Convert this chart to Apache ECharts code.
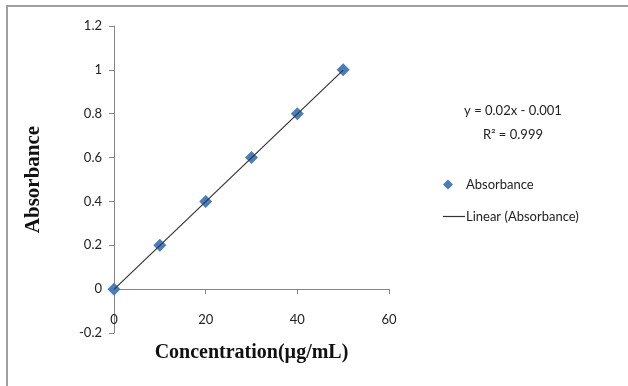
<!DOCTYPE html>
<html>
<head>
<meta charset="utf-8">
<script src="https://cdn.jsdelivr.net/npm/echarts@6/dist/echarts.min.js"></script>
<style>
  html, body { margin: 0; padding: 0; background: #fff; }
  #chart { width: 628px; height: 386px; }
</style>
</head>
<body>
<div id="chart"></div>
<script>
// data
var concentration = [0, 10, 20, 30, 40, 50];
var absorbance = [0, 0.2, 0.4, 0.6, 0.8, 1.0];
// trendline end points (y = 0.02x - 0.001)
var trendX = [0, 50];
var trendY = [-0.001, 0.999];
var xTicks = [0, 20, 40, 60];
var yTicks = [-0.2, 0, 0.2, 0.4, 0.6, 0.8, 1, 1.2];
var equationText = 'y = 0.02x - 0.001';
var r2Text = 'R² = 0.999';

var dom = document.getElementById('chart');
var myChart = echarts.init(dom);

var labelFont = 'Lato, "Open Sans", sans-serif';
var nameFont = '"Liberation Serif", "DejaVu Serif", serif';

var option = {
    backgroundColor: '#fff',
    animation: false,
    grid: { left: 114, top: 26, right: 239, bottom: 53, outerBoundsMode: 'none', containLabel: false },
    legend: [{
        data: ['Absorbance'],
        orient: 'vertical',
        left: 438, top: 173,
        icon: 'diamond',
        itemWidth: 10, itemHeight: 10,
        textStyle: { fontFamily: labelFont, fontSize: 13, color: '#222', padding: [0, 0, 0, 8] }
    }, {
        data: ['Linear (Absorbance)'],
        orient: 'vertical',
        left: 438, top: 205,
        icon: 'rect',
        itemWidth: 22, itemHeight: 1.2,
        textStyle: { fontFamily: labelFont, fontSize: 13, color: '#222', padding: [0, 0, 0, -4] }
    }],
    xAxis: {
        type: 'value',
        min: xTicks[0], max: xTicks[xTicks.length - 1], interval: 20,
        name: 'Concentration(µg/mL)',
        nameLocation: 'middle',
        nameGap: 10,
        nameTextStyle: { fontFamily: nameFont, fontWeight: 'bold', fontSize: 20, color: '#111' },
        axisLine: { onZero: true, lineStyle: { color: '#868686', width: 1 } },
        axisTick: { show: true, inside: false, length: 5, lineStyle: { color: '#868686' } },
        axisLabel: { margin: -20, fontFamily: labelFont, fontSize: 13, color: '#222' },
        splitLine: { show: false }
    },
    yAxis: {
        type: 'value',
        min: yTicks[0], max: yTicks[yTicks.length - 1], interval: 0.2,
        name: 'Absorbance',
        nameLocation: 'middle',
        nameRotate: 90,
        nameGap: 70,
        nameTextStyle: { fontFamily: nameFont, fontWeight: 'bold', fontSize: 21, color: '#111' },
        axisLine: { show: true, onZero: false, lineStyle: { color: '#868686', width: 1 } },
        axisTick: { show: true, length: 5, lineStyle: { color: '#868686' } },
        axisLabel: {
            margin: 12, fontFamily: labelFont, fontSize: 13, color: '#222',
            formatter: function (v) { return String(Math.round(v * 10) / 10); }
        },
        splitLine: { show: false }
    },
    graphic: [{
        type: 'rect',
        shape: { x: 7, y: 6, width: 640, height: 400 },
        style: { fill: null, stroke: '#a0a0a0', lineWidth: 2 },
        silent: true, z: -1
    }, {
        type: 'text',
        x: 513, y: 104,
        style: { text: equationText, font: '13px ' + labelFont, fill: '#222', textAlign: 'center' }
    }, {
        type: 'text',
        x: 513, y: 128,
        style: { text: r2Text, font: '13px ' + labelFont, fill: '#222', textAlign: 'center' }
    }],
    series: [{
        name: 'Linear (Absorbance)',
        type: 'line',
        data: trendX.map(function (x, i) { return [x, trendY[i]]; }),
        symbol: 'none',
        lineStyle: { color: '#333', width: 1.2 },
        itemStyle: { color: '#333' },
        z: 3
    }, {
        name: 'Absorbance',
        type: 'scatter',
        data: concentration.map(function (x, i) { return [x, absorbance[i]]; }),
        symbol: 'diamond',
        symbolSize: 13,
        itemStyle: { color: '#4a7ebb', opacity: 1 },
        z: 2
    }]
};
myChart.setOption(option, true);
</script>
</body>
</html>
